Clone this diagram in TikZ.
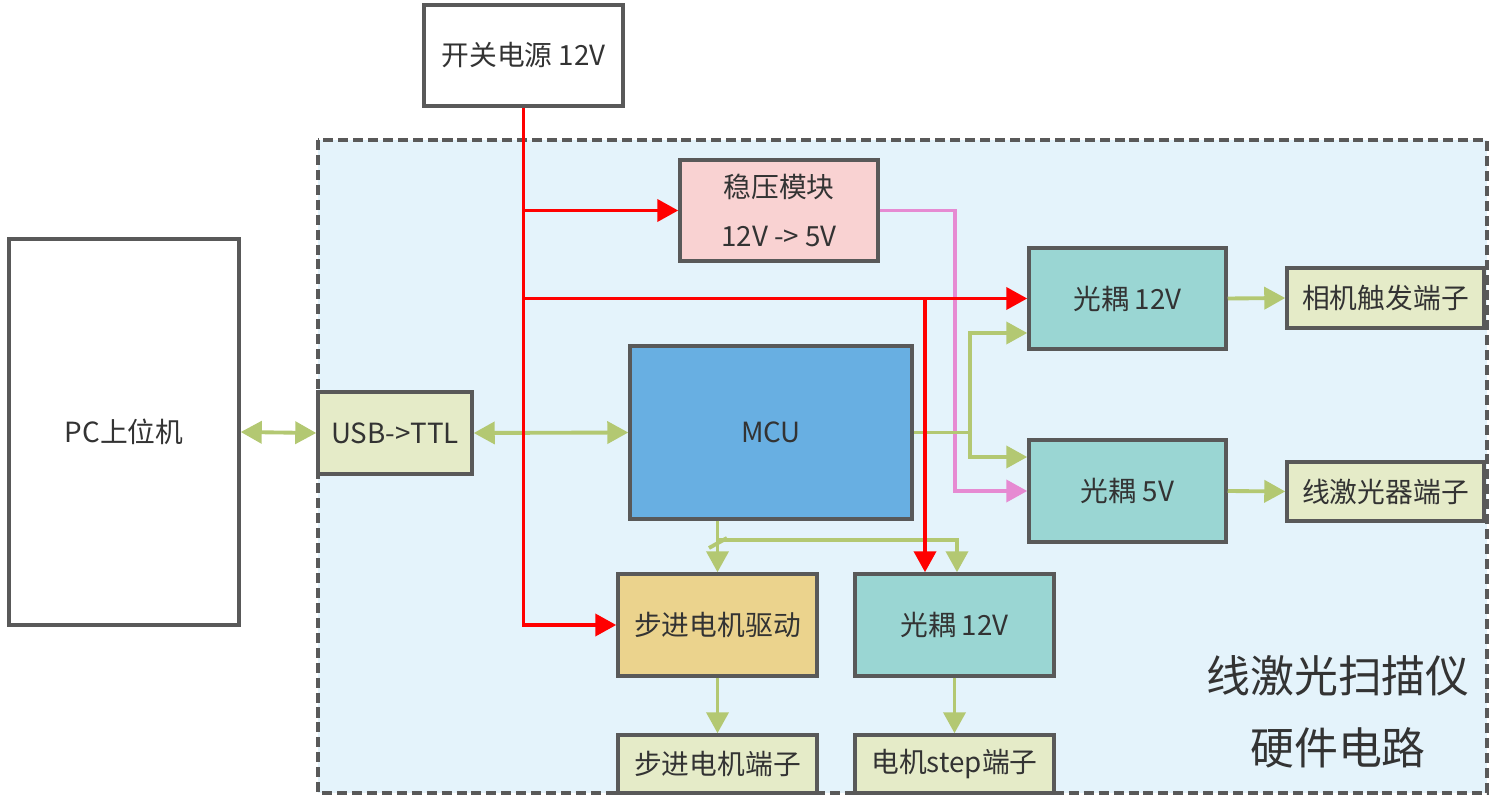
\documentclass[tikz,border=0pt]{standalone}
\usepackage{fontspec}
\setmainfont{Noto Sans CJK SC}
\usetikzlibrary{arrows.meta}
\definecolor{bordergray}{HTML}{595959}
\definecolor{txt}{HTML}{333333}
\definecolor{bgblue}{HTML}{E4F3FB}
\definecolor{olivefill}{HTML}{E5EBC8}
\definecolor{mcublue}{HTML}{68AFE2}
\definecolor{pinkfill}{HTML}{F9D2D2}
\definecolor{tealfill}{HTML}{9AD6D3}
\definecolor{goldfill}{HTML}{EBD38D}
\definecolor{gline}{HTML}{B3C872}
\definecolor{rline}{HTML}{FF0000}
\definecolor{pline}{HTML}{E68AD2}
\tikzset{
  blk/.style={draw=bordergray, line width=2pt, text=txt, inner sep=0pt, align=center,
    font=\fontsize{15.8}{27.8}\selectfont},
  tip/.style={-{Triangle[length=0.42cm,width=0.44cm]}},
  dtip/.style={{Triangle[length=0.42cm,width=0.44cm]}-{Triangle[length=0.42cm,width=0.44cm]}},
  gconn/.style={draw=gline, line width=2.2pt},
  rconn/.style={draw=rline, line width=2.2pt},
  pconn/.style={draw=pline, line width=2.2pt},
}
\begin{document}
\begin{tikzpicture}[x=0.02cm,y=-0.02cm]
\useasboundingbox (0,0) rectangle (1495,800);
% container
\draw[draw=bordergray, fill=bgblue, line width=2pt, dash pattern=on 5.7pt off 2.8pt] (318,140) rectangle (1487,793);
% nodes
\node[blk, fill=white, minimum width=3.98cm, minimum height=2.02cm] (power) at (523.5,55.5) {开关电源 12V};
\node[blk, fill=white, minimum width=4.6cm, minimum height=7.72cm] (pc) at (124,432) {PC上位机};
\node[blk, fill=olivefill, minimum width=3.08cm, minimum height=1.64cm] (usb) at (395,433) {USB->TTL};
\node[blk, fill=mcublue, minimum width=5.64cm, minimum height=3.46cm] (mcu) at (771,432.5) {MCU};
\node[blk, fill=pinkfill, minimum width=3.96cm, minimum height=2.02cm] (reg) at (779,210.5) {稳压模块\\12V -> 5V};
\node[blk, fill=tealfill, minimum width=3.94cm, minimum height=2.02cm] (oc1) at (1127.5,298.5) {光耦 12V};
\node[blk, fill=olivefill, minimum width=3.94cm, minimum height=1.2cm] (cam) at (1385.5,298) {相机触发端子};
\node[blk, fill=tealfill, minimum width=3.94cm, minimum height=2.04cm] (oc2) at (1127.5,491) {光耦 5V};
\node[blk, fill=olivefill, minimum width=3.94cm, minimum height=1.18cm] (laser) at (1385.5,491.5) {线激光器端子};
\node[blk, fill=goldfill, minimum width=3.98cm, minimum height=2.04cm] (drv) at (717.5,625) {步进电机驱动};
\node[blk, fill=tealfill, minimum width=3.98cm, minimum height=2.04cm] (oc3) at (954.5,625) {光耦 12V};
\node[blk, fill=olivefill, minimum width=3.98cm, minimum height=1.16cm] (motor) at (717.5,764) {步进电机端子};
\node[blk, fill=olivefill, minimum width=3.98cm, minimum height=1.16cm] (step) at (954.5,764) {电机step端子};
\node[text=txt, font=\fontsize{25}{40.8}\selectfont, align=center] (title) at (1338,712) {线激光扫描仪\\硬件电路};
% pink connector
\coordinate (pk) at (955,210.5);
\draw[pconn, tip] (reg.east) -- (pk) |- (oc2.west);
% green connectors
\draw[gconn, dtip] (pc.east) -- (usb.west);
\draw[gconn, dtip] (usb.east) -- (mcu.west);
\coordinate (gj) at (970,432.5);
\draw[gconn] (mcu.east) -- (gj);
\draw[gconn, tip] (gj) |- ([yshift=-0.69cm]oc1.west);
\draw[gconn, tip] (gj) |- ([yshift=0.68cm]oc2.west);
\draw[gconn, tip] (oc1.east) -- (cam.west);
\draw[gconn, tip] (oc2.east) -- (laser.west);
\coordinate (gb) at (716,540);
\draw[gconn, tip] (drv.north |- mcu.south) -- (drv.north);
\draw[gconn, tip] (gb) -| ([xshift=0.05cm]oc3.north);
\draw[gconn] (709,548) -- (727,538);
\draw[gconn, tip] (drv.south) -- (motor.north);
\draw[gconn, tip] (oc3.south) -- (step.north);
% red connectors
\coordinate (rb) at ([xshift=-0.59cm]oc3.north);
\draw[rconn, tip] (power.south) |- (drv.west);
\draw[rconn, tip] (power.south |- reg.west) -- (reg.west);
\draw[rconn, tip] (power.south |- oc1.west) -- (oc1.west);
\draw[rconn, tip] (rb |- oc1.west) -- (rb);
\end{tikzpicture}
\end{document}
